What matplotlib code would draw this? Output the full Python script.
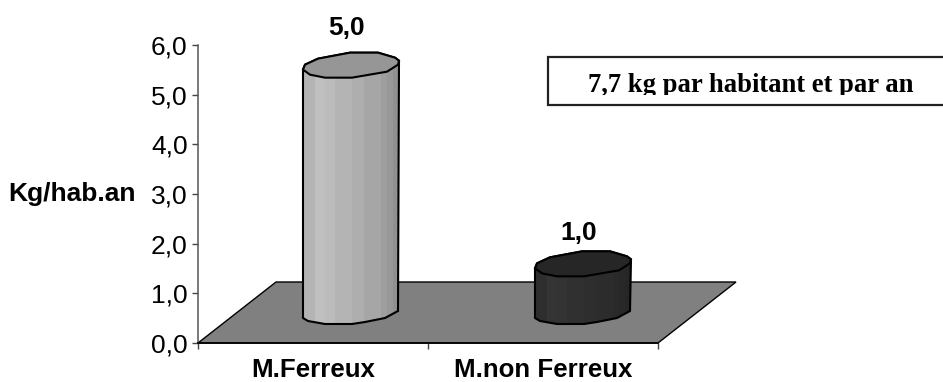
import matplotlib
matplotlib.use("Agg")
import matplotlib.pyplot as plt
from matplotlib.patches import Polygon, Rectangle
from matplotlib.transforms import Bbox

categories = ["M.Ferreux", "M.non Ferreux"]
values = [5.0, 1.0]
value_labels = ["5,0", "1,0"]
y_ticks = [0, 1, 2, 3, 4, 5, 6]
y_tick_labels = ["0,0", "1,0", "2,0", "3,0", "4,0", "5,0", "6,0"]
y_label = "Kg/hab.an"
note = "7,7 kg par habitant et par an"

W, H = 943, 382
X0, Y0, AW, AH = 198, 343, 460, 298
plt.rcParams["font.family"] = ["Liberation Sans", "DejaVu Sans"]


def dx(px):
    # pixels to x data units
    return px * 2.0 / AW


def dy(px):
    return px * 6.0 / AH


fig = plt.figure(figsize=(W / 100, H / 100), dpi=100)
ax = fig.add_axes([X0 / W, 1 - Y0 / H, AW / W, AH / H])
ax.set_xlim(0, 2)
ax.set_ylim(0, 6)
for s in ["top", "right"]:
    ax.spines[s].set_visible(False)
ax.spines["left"].set_linewidth(1.1)
ax.spines["bottom"].set_linewidth(1.2)
ax.spines["left"].set_color("#555555")

ax.set_yticks(y_ticks)
ax.set_yticklabels(y_tick_labels, fontsize=19)
ax.set_xticks([0, 1, 2])
ax.set_xticklabels([])
ax.tick_params(axis="both", length=4.5, width=1, color="#444444")
ax.tick_params(axis="y", pad=3)

# x labels sit between ticks
for i, c in enumerate(categories):
    ax.annotate(c, (i + 0.5, 0), xytext=(0, -27), textcoords="offset pixels",
                ha="center", va="center", fontsize=18.6, fontweight="bold", annotation_clip=False)

fig.text(72 / W, 1 - 194 / H, y_label, ha="center", va="center", fontsize=19, fontweight="bold")

# floor of the 3d box
depth_x, depth_y = dx(78), dy(61)
ax.add_patch(Polygon([(0, 0), (depth_x, depth_y), (2 + depth_x, depth_y), (2, 0)],
                     closed=True, fc="#808080", ec="black", lw=1, zorder=1, clip_on=False))

# outline of a bar section, pixels from the left corner
top_upper = [(-48, 0), (-46, 5), (-33, 11), (-1, 17), (27, 17), (44, 12), (48, 9)]
top_lower = [(47, 5), (36, -2), (1, -8), (-26, -8), (-41, -5)]
base_lower = [(-48, 0), (-43, -3), (-26, -6), (1, -6), (14, -4), (34, 0), (47, 7)]

strip_edges = [-48, -36, -26, -16, 1, 13, 30, 36, 42, 48]
bar_grays = [
    ["#b4b4b4", "#c0c0c0", "#bcbcbc", "#b4b4b4", "#aeaeae", "#a6a6a6", "#9e9e9e", "#989898", "#909090"],
    ["#2e2e2e", "#343434", "#333333", "#303030", "#2e2e2e", "#2c2c2c", "#2a2a2a", "#282828", "#262626"],
]
top_colors = ["#969696", "#262626"]
centers = [0.5 + dx(38), 1.5 + dx(40)]
base_y = dy(25)

for i, v in enumerate(values):
    cx = centers[i]
    ty = base_y + v

    def pt(p, y_ref):
        return (cx + dx(p[0]), y_ref + dy(p[1]))

    body = [pt(p, base_y) for p in base_lower]
    body += [pt((48, 9), ty)]
    body += [pt(p, ty) for p in reversed(top_upper)]
    outline = Polygon(body, closed=True, fc="none", ec="black", lw=1.5, zorder=5)
    clip = Polygon(body, closed=True, transform=ax.transData)
    for k in range(len(bar_grays[i])):
        r = ax.bar(cx + dx(strip_edges[k]), base_y + v + dy(20) - dy(-10), dx(strip_edges[k + 1] - strip_edges[k]),
                   bottom=dy(-10), align="edge", color=bar_grays[i][k], lw=0, zorder=3, clip_on=True)
        r[0].set_clip_path(clip)
    ax.add_patch(outline)
    top = [pt(p, ty) for p in top_upper + top_lower]
    ax.add_patch(Polygon(top, closed=True, fc=top_colors[i], ec="black", lw=1.5, zorder=6))

label_pads = [dy(42), dy(35)]
label_x = [cx - dx(4) for cx in centers]
for i, t in enumerate(value_labels):
    ax.text(label_x[i], base_y + values[i] + label_pads[i], t, ha="center", va="center",
            fontsize=19, fontweight="bold", clip_on=False, zorder=7)

# note box runs off the right edge, text cut by the box
fig.add_artist(Rectangle((547.5 / W, 1 - 104.5 / H), 420 / W, 47.5 / H, transform=fig.transFigure,
                         fc="white", ec="#222222", lw=1.6, zorder=8))
nt = fig.text(750.5 / W, 1 - 92 / H, note, ha="center", va="baseline", family="Liberation Serif",
              fontsize=19.2, fontweight="bold", zorder=9)
nt.set_clip_box(Bbox([[548, H - 95], [W, H - 58]]))
nt.set_clip_on(True)

fig.savefig("out.png", dpi=100)
